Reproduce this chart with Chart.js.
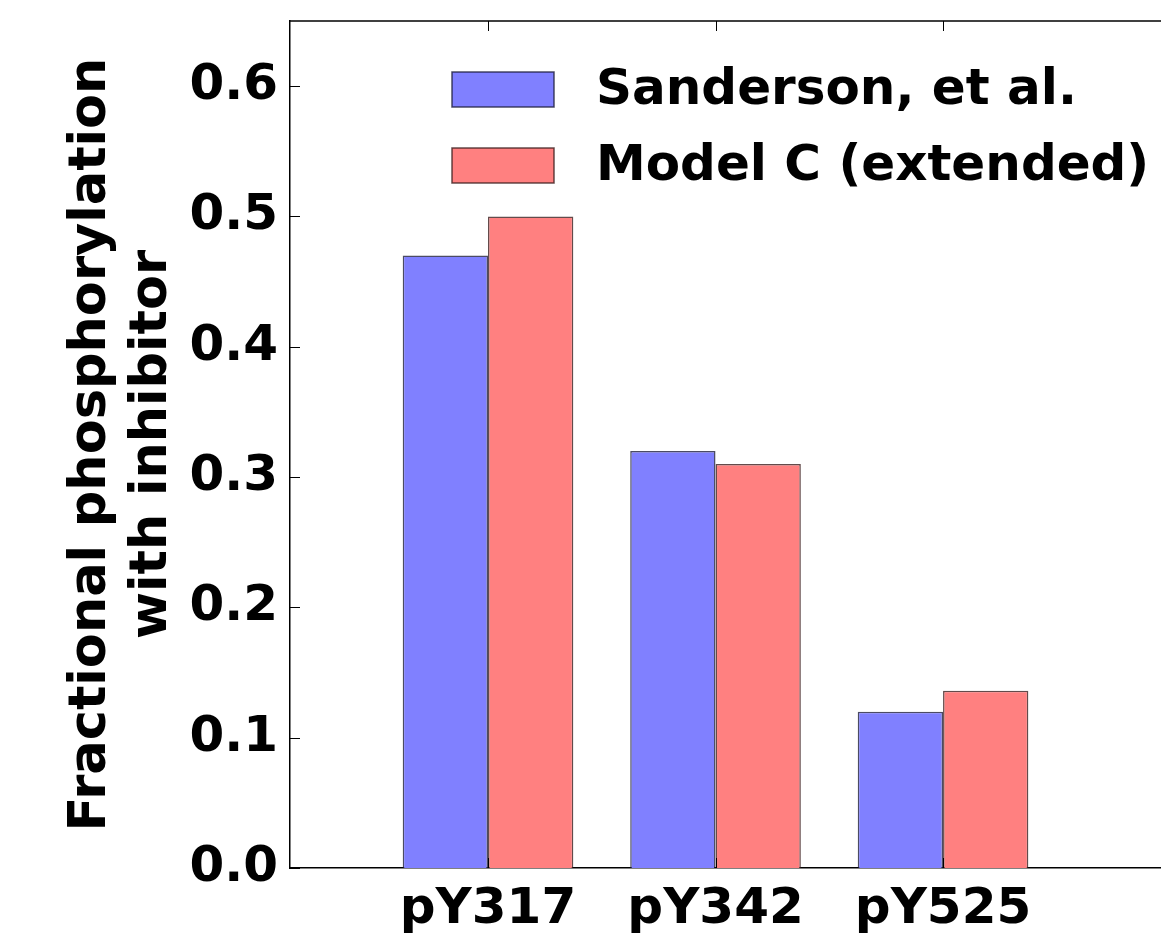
<!DOCTYPE html>
<html>
<head>
<meta charset="utf-8">
<script src="https://cdn.jsdelivr.net/npm/chart.js@4/dist/chart.umd.min.js"></script>
<style>
  html, body { margin: 0; padding: 0; background: #fff; overflow: hidden; }
  #wrap { width: 1161px; height: 934px; }
</style>
</head>
<body>
<div id="wrap"><canvas id="chart" width="1161" height="934"></canvas></div>
<script>
// sites and measured / model values
const sites = ['pY317', 'pY342', 'pY525'];
const sanderson = [0.47, 0.32, 0.12];
const modelC = [0.50, 0.31, 0.136];
const yTicks = [0.0, 0.1, 0.2, 0.3, 0.4, 0.5, 0.6];

const FONT = "'DejaVu Sans', sans-serif";
const FS = 50;

// inward tick marks, top spine and legend inside the axes box
const framePlugin = {
  id: 'frame',
  afterDraw(chart) {
    const { ctx, chartArea: a, scales } = chart;
    ctx.save();
    ctx.strokeStyle = '#000';
    ctx.lineWidth = 1.5;
    ctx.beginPath();
    ctx.moveTo(a.left, a.top);
    ctx.lineTo(a.right + 2, a.top);
    ctx.stroke();

    ctx.lineWidth = 1;
    ctx.beginPath();
    yTicks.forEach(v => {
      const y = Math.round(scales.y.getPixelForValue(v)) + 0.5;
      ctx.moveTo(a.left, y);
      ctx.lineTo(a.left + 10, y);
    });
    sites.forEach((s, i) => {
      const x = Math.round(scales.x.getPixelForValue(i)) + 0.5;
      ctx.moveTo(x, a.top);
      ctx.lineTo(x, a.top + 10);
      ctx.moveTo(x, a.bottom);
      ctx.lineTo(x, a.bottom - 10);
    });
    ctx.stroke();

    // legend
    ctx.font = 'bold ' + FS + 'px ' + FONT;
    ctx.textBaseline = 'middle';
    chart.data.datasets.forEach((ds, i) => {
      const cy = 89 + i * 76;
      ctx.fillStyle = ds.backgroundColor;
      ctx.fillRect(452, cy - 17, 102, 35);
      ctx.strokeStyle = ds.borderColor;
      ctx.lineWidth = 1.5;
      ctx.strokeRect(452, cy - 17, 102, 35);
      ctx.fillStyle = '#000';
      ctx.fillText(ds.label, 596, cy + 2);
    });
    ctx.restore();
  }
};

const data = {
  datasets: [
    {
      label: 'Sanderson, et al.',
      data: sanderson.map((v, i) => ({ x: i, y: v })),
      backgroundColor: '#8080ff',
      borderColor: 'rgba(30,30,60,0.8)',
      borderWidth: 1.5
    },
    {
      label: 'Model C (extended)',
      data: modelC.map((v, i) => ({ x: i, y: v })),
      backgroundColor: '#ff8080',
      borderColor: 'rgba(60,30,30,0.8)',
      borderWidth: 1.5
    }
  ]
};

new Chart(document.getElementById('chart'), {
  type: 'bar',
  data: data,
  options: {
    responsive: false,
    animation: false,
    categoryPercentage: 0.75,
    barPercentage: 1.0,
    layout: { padding: { top: 21, right: 0, left: 0, bottom: 0 } },
    plugins: { legend: { display: false }, tooltip: { enabled: false } },
    scales: {
      x: {
        type: 'linear',
        offset: false,
        min: -0.8703,
        max: 2.958,
        afterBuildTicks: s => { s.ticks = sites.map((_, i) => ({ value: i })); },
        afterFit: s => { s.height = 66; s.paddingLeft = 0; s.paddingRight = 0; },
        grid: { display: false, drawTicks: false },
        border: { color: '#000', width: 1.5 },
        ticks: {
          color: '#000',
          padding: 12,
          maxRotation: 0,
          autoSkip: false,
          font: { family: FONT, weight: 'bold', size: FS },
          callback: v => sites[v]
        }
      },
      y: {
        min: 0,
        max: 0.65,
        afterBuildTicks: s => { s.ticks = yTicks.map(v => ({ value: v })); },
        afterFit: s => { s.width = 290; s.paddingTop = 0; s.paddingBottom = 0; },
        grid: { display: false, drawTicks: false },
        border: { color: '#000', width: 1.5 },
        ticks: {
          color: '#000',
          padding: 12,
          font: { family: FONT, weight: 'bold', size: FS },
          callback: v => v.toFixed(1)
        },
        title: {
          display: true,
          text: ['Fractional phosphorylation', 'with inhibitor'],
          color: '#000',
          padding: { top: 62, bottom: 0 },
          font: { family: FONT, weight: 'bold', size: 51, lineHeight: 1.18 }
        }
      }
    }
  },
  plugins: [framePlugin]
});
</script>
</body>
</html>
